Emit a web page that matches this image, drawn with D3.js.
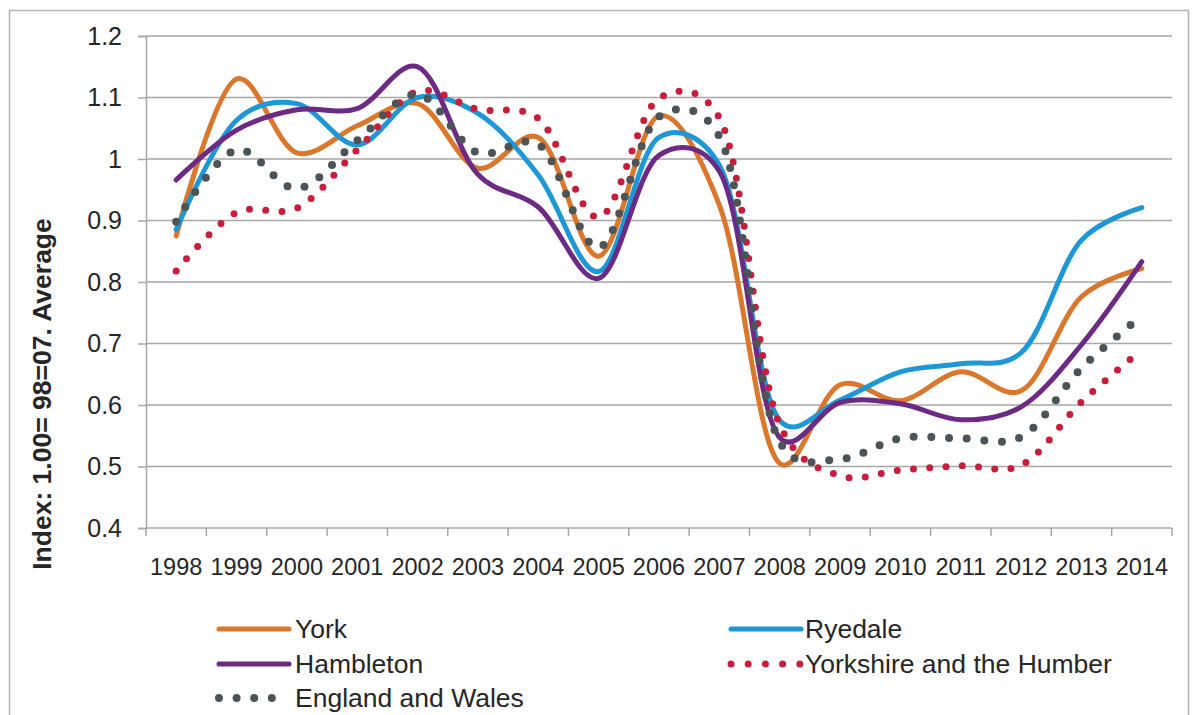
<!DOCTYPE html>
<html>
<head>
<meta charset="utf-8">
<script src="https://cdn.jsdelivr.net/npm/d3@7"></script>
<style>
  body { margin: 0; background: #fff; }
  text { font-family: "Liberation Sans", Arial, sans-serif; fill: #262626; }
</style>
</head>
<body>
<div id="chart"></div>
<script>
const years = ["1998","1999","2000","2001","2002","2003","2004","2005","2006","2007","2008","2009","2010","2011","2012","2013","2014"];
const yTicks = [0.4, 0.5, 0.6, 0.7, 0.8, 0.9, 1.0, 1.1, 1.2];

const york      = [0.875, 1.130, 1.010, 1.054, 1.090, 0.985, 1.035, 0.842, 1.070, 0.925, 0.505, 0.633, 0.607, 0.654, 0.623, 0.776, 0.822];
const ryedale   = [0.885, 1.063, 1.090, 1.023, 1.100, 1.074, 0.974, 0.817, 1.035, 0.990, 0.575, 0.608, 0.654, 0.667, 0.685, 0.868, 0.921];
const hambleton = [0.966, 1.047, 1.080, 1.082, 1.150, 0.975, 0.922, 0.806, 1.006, 0.980, 0.547, 0.604, 0.602, 0.576, 0.597, 0.698, 0.833];
const yorkshire = [0.818, 0.913, 0.920, 1.015, 1.110, 1.081, 1.066, 0.905, 1.099, 1.067, 0.568, 0.485, 0.494, 0.501, 0.502, 0.605, 0.690];
const england   = [0.898, 1.015, 0.952, 1.030, 1.105, 1.010, 1.024, 0.856, 1.069, 1.037, 0.540, 0.512, 0.546, 0.546, 0.548, 0.660, 0.745];

const seriesNames = ["York", "Ryedale", "Hambleton", "Yorkshire and the Humber", "England and Wales"];

function renderChart(containerId) {
  const width = 1193, height = 715;
  const margin = { top: 36, right: 21, bottom: 187, left: 146 };
  const innerWidth = width - margin.left - margin.right;
  const innerHeight = height - margin.top - margin.bottom;

  const svg = d3.select(`#${containerId}`)
    .append("svg")
    .attr("width", width)
    .attr("height", height);

  // outer frame
  svg.append("rect")
    .attr("x", 9.5).attr("y", 10.5)
    .attr("width", 1179).attr("height", 720)
    .attr("fill", "none")
    .attr("stroke", "#b3b3b3")
    .attr("stroke-width", 1.5);

  const g = svg.append("g")
    .attr("transform", `translate(${margin.left},${margin.top})`);

  const x = d3.scaleBand().domain(years).range([0, innerWidth]).padding(0);
  const y = d3.scaleLinear().domain([0.4, 1.2]).range([innerHeight, 0]);

  // gridlines + y ticks
  const yAxis = g.append("g")
    .call(d3.axisLeft(y).tickValues(yTicks).tickSize(8).tickPadding(16)
      .tickFormat(d => String(+d.toFixed(1))));
  yAxis.select(".domain").attr("stroke", "#a6a6a6").attr("stroke-width", 1.5);
  yAxis.selectAll(".tick line").attr("stroke", "#a6a6a6").attr("stroke-width", 1.5);
  yAxis.selectAll(".tick text").style("font-size", "25px").attr("fill", "#262626");

  g.append("g")
    .selectAll("line")
    .data(yTicks.filter(d => d > 0.4))
    .join("line")
    .attr("x1", 0).attr("x2", innerWidth)
    .attr("y1", d => y(d)).attr("y2", d => y(d))
    .attr("stroke", "#a6a6a6")
    .attr("stroke-width", 1.5);

  // x axis
  const xAxis = g.append("g")
    .attr("transform", `translate(0,${innerHeight})`)
    .call(d3.axisBottom(x).tickSize(0).tickPadding(30));
  xAxis.select(".domain").remove();
  xAxis.selectAll(".tick text").style("font-size", "23.5px").attr("fill", "#262626");

  g.append("line")
    .attr("x1", 0).attr("x2", innerWidth)
    .attr("y1", innerHeight).attr("y2", innerHeight)
    .attr("stroke", "#a6a6a6").attr("stroke-width", 1.5);

  g.append("g")
    .selectAll("line")
    .data(years.concat(["end"]))
    .join("line")
    .attr("x1", (d, i) => i * x.step()).attr("x2", (d, i) => i * x.step())
    .attr("y1", innerHeight).attr("y2", innerHeight + 8)
    .attr("stroke", "#a6a6a6").attr("stroke-width", 1.5);

  // y title
  svg.append("text")
    .attr("transform", "rotate(-90)")
    .attr("x", -394)
    .attr("y", 51)
    .attr("text-anchor", "middle")
    .style("font-size", "26.5px")
    .style("font-weight", "bold")
    .attr("fill", "#1a1a1a")
    .text("Index: 1.00= 98=07. Average");

  const series = [
    { name: seriesNames[0], values: york,      color: "#D9782D", width: 5, dash: null,     legendLen: 70 },
    { name: seriesNames[1], values: ryedale,   color: "#1E98D4", width: 5, dash: null,     legendLen: 70 },
    { name: seriesNames[2], values: hambleton, color: "#6C2A84", width: 5, dash: null,     legendLen: 70 },
    { name: seriesNames[3], values: yorkshire, color: "#C81E3C", width: 7, dash: "0 16.3", legendLen: 70 },
    { name: seriesNames[4], values: england,   color: "#4D5457", width: 8, dash: "0 17.7", legendLen: 54 }
  ];

  // smoothed like Excel's "smoothed line"
  const line = d3.line()
    .x((d, i) => x(years[i]) + x.bandwidth() / 2)
    .y(d => y(d))
    .curve(d3.curveCatmullRom.alpha(0.25));

  g.append("g")
    .selectAll("path")
    .data(series)
    .join("path")
    .attr("d", d => line(d.values))
    .attr("fill", "none")
    .attr("stroke", d => d.color)
    .attr("stroke-width", d => d.width)
    .attr("stroke-linecap", "round")
    .attr("stroke-linejoin", "round")
    .attr("stroke-dasharray", d => d.dash);

  // legend
  const legendPos = [
    { x: 218, y: 629 }, { x: 730, y: 629 },
    { x: 218, y: 664 }, { x: 730, y: 664 },
    { x: 218, y: 698 }
  ];
  const legend = svg.append("g")
    .selectAll("g")
    .data(series)
    .join("g")
    .attr("transform", (d, i) => `translate(${legendPos[i].x},${legendPos[i].y})`);

  legend.append("line")
    .attr("x1", 1).attr("x2", d => 1 + d.legendLen)
    .attr("y1", 0).attr("y2", 0)
    .attr("stroke", d => d.color)
    .attr("stroke-width", d => d.width)
    .attr("stroke-linecap", "round")
    .attr("stroke-dasharray", d => d.dash ? (d.width === 8 ? "0 17.6" : "0 17.2") : null);

  legend.append("text")
    .attr("x", (d, i) => i % 2 === 0 ? 77 : 75)
    .attr("dy", "0.35em")
    .style("font-size", "26.5px")
    .text(d => d.name);
}

document.addEventListener("DOMContentLoaded", () => {
  renderChart("chart");
});
</script>
</body>
</html>
